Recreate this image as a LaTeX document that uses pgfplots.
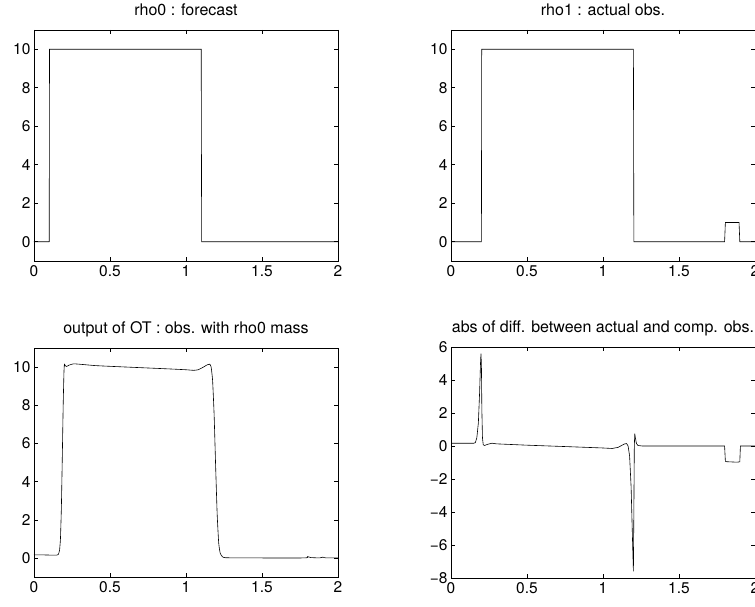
\documentclass[border=0pt]{standalone}
\usepackage{fontspec}
\setmainfont{TeX Gyre Heros}
\usepackage{pgfplots}
\pgfplotsset{compat=1.18}

\pgfplotsset{
  mlab/.style={
    scale only axis, width=304pt,
    xmin=0, xmax=2,
    xtick={0,0.5,1,1.5,2}, xticklabels={0,0.5,1,1.5,2},
    tick align=inside, major tick length=4pt,
    axis line style={line width=0.7pt},
    every tick/.style={black, line width=0.5pt},
    tick label style={font=\fontsize{15.5}{18}\selectfont},
    xticklabel style={yshift=-1pt},
    title style={font=\fontsize{16}{19}\selectfont, text depth=0pt, yshift=4.5pt},
  },
  rho/.style={ymin=-1, ymax=11, ytick={0,2,...,10}, yticklabels={0,2,4,6,8,10}},
  dat/.style={black, line width=0.6pt, mark=none},
}

\begin{document}
\begin{tikzpicture}

% top left
\begin{axis}[mlab, rho, height=231pt, at={(34pt,345pt)}, anchor=south west,
  title={rho0 : forecast}]
  \addplot[dat] coordinates {(0,0) (0.1,0) (0.102,10) (1.1,10) (1.103,0) (2,0)};
\end{axis}

% top right
\begin{axis}[mlab, rho, height=231pt, at={(451pt,345pt)}, anchor=south west,
  title={rho1 : actual obs.}]
  \addplot[dat] coordinates {(0,0) (0.2,0) (0.202,10) (1.2,10) (1.203,0) (1.8,0)
    (1.805,1) (1.895,1) (1.9,0) (2,0)};
\end{axis}

% bottom left
\begin{axis}[mlab, rho, height=229pt, at={(34pt,29pt)}, anchor=south west,
  title={output of OT : obs. with rho0 mass}]
  \addplot[dat, smooth, tension=0.3] coordinates {(0,0.16) (0.05,0.16) (0.1,0.15) (0.15,0.15)
    (0.16,0.18) (0.168,0.4) (0.174,1.0) (0.18,2.6) (0.186,5.2) (0.192,8.0)
    (0.197,9.7) (0.2,10.15) (0.205,10.08) (0.214,10.03) (0.23,10.1) (0.26,10.17)
    (0.3,10.15) (0.4,10.08) (0.5,10.04) (0.7,9.97) (0.9,9.9) (1.0,9.86)
    (1.05,9.83) (1.08,9.86) (1.11,9.98) (1.14,10.12) (1.155,10.15) (1.165,10.02)
    (1.175,9.3) (1.185,7.5) (1.195,4.8) (1.205,2.3) (1.215,0.8) (1.225,0.25)
    (1.24,0.06) (1.26,0.01) (1.4,0) (1.78,0) (1.8,0.07) (1.82,0.02) (1.88,0)
    (1.9,0.04) (1.92,0) (2,0)};
\end{axis}

% bottom right
\begin{axis}[mlab, height=231pt, at={(451pt,28pt)}, anchor=south west,
  ymin=-8, ymax=6, ytick={-8,-6,...,6},
  yticklabels={−8,−6,−4,−2,0,2,4,6},
  title={abs of diff. between actual and comp. obs.}]
  \addplot[dat] coordinates {(0,0.17) (0.1,0.17) (0.15,0.17) (0.16,0.2) (0.17,0.5)
    (0.18,1.4) (0.188,3.2) (0.194,5.0) (0.197,5.6) (0.2,5.0) (0.203,2.2)
    (0.207,0.5) (0.212,0.08) (0.22,0.03) (0.24,0.1) (0.27,0.17) (0.3,0.13)
    (0.5,0.05) (0.8,-0.05) (1.0,-0.12) (1.06,-0.15) (1.1,-0.08) (1.14,0.12)
    (1.155,0.15) (1.165,0) (1.175,-0.6) (1.185,-2.5) (1.195,-6) (1.2,-7.6)
    (1.203,-4) (1.206,0) (1.209,0.75) (1.213,0.5) (1.22,0.15) (1.23,0.03)
    (1.26,0) (1.8,0) (1.805,-0.92) (1.81,-0.95) (1.88,-0.98) (1.9,-0.96)
    (1.904,0) (2,0)};
\end{axis}

\pgfresetboundingbox
\useasboundingbox (0,0) rectangle (755pt,606pt);
\end{tikzpicture}
\end{document}
